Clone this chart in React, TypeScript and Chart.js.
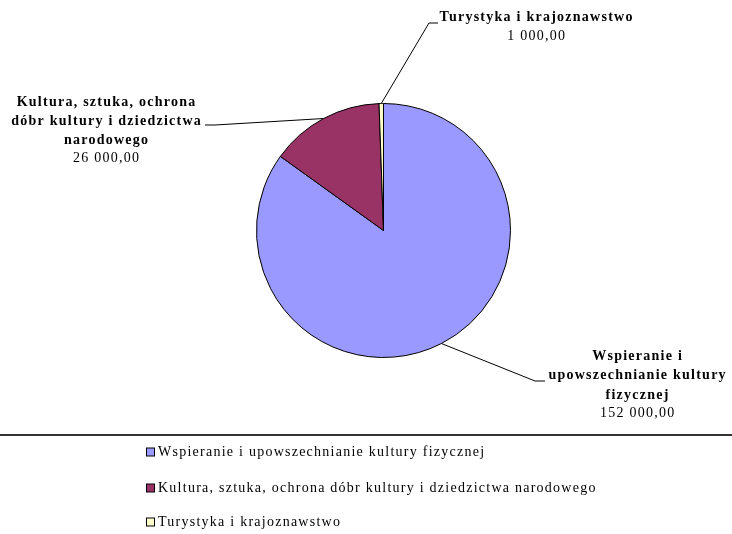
import React, { useEffect, useRef } from "react";
import { Chart, registerables } from "chart.js";

Chart.register(...registerables);

const categories = [
  "Wspieranie i upowszechnianie kultury fizycznej",
  "Kultura, sztuka, ochrona dóbr kultury i dziedzictwa narodowego",
  "Turystyka i krajoznawstwo",
];
const values = [152000, 26000, 1000];
const valueLabels = ["152 000,00", "26 000,00", "1 000,00"];
const labelLines = [
  ["Wspieranie i", "upowszechnianie kultury", "fizycznej"],
  ["Kultura, sztuka, ochrona", "dóbr kultury i dziedzictwa", "narodowego"],
  ["Turystyka i krajoznawstwo"],
];
const colors = ["#9999FF", "#993366", "#FFFFCC"];

// label layout: text center x, first line y, line height, elbow point, end point
const labelLayout = [
  { x: 637, y: 356, lh: 19.5, elbow: [535, 381], end: [545, 381] },
  { x: 106, y: 102, lh: 19.2, elbow: [215, 125], end: [205, 125] },
  { x: 536, y: 17, lh: 20, elbow: [429, 23], end: [438, 23] },
];

const FONT = '"Liberation Serif", "Times New Roman", serif';

function drawText(ctx: CanvasRenderingContext2D, t: string, x: number, y: number, align: "left" | "center") {
  const sp = 1.25;
  (ctx as any).letterSpacing = sp + "px";
  if (align === "center") {
    const w = ctx.measureText(t).width - sp;
    ctx.textAlign = "left";
    ctx.fillText(t, x - w / 2, y);
  } else {
    ctx.textAlign = "left";
    ctx.fillText(t, x, y);
  }
  (ctx as any).letterSpacing = "0px";
}

const overlayPlugin = {
  id: "overlay",
  afterDraw(chart: any) {
    const ctx = chart.ctx as CanvasRenderingContext2D;
    const meta = chart.getDatasetMeta(0);
    ctx.save();
    meta.data.forEach((arc: any, i: number) => {
      const p = arc.getProps(["x", "y", "startAngle", "endAngle", "outerRadius"], true);
      const mid = (p.startAngle + p.endAngle) / 2;
      const sx = p.x + Math.cos(mid) * p.outerRadius;
      const sy = p.y + Math.sin(mid) * p.outerRadius;
      const L = labelLayout[i];
      ctx.strokeStyle = "#000";
      ctx.lineWidth = 1;
      ctx.beginPath();
      ctx.moveTo(sx, sy);
      ctx.lineTo(L.elbow[0], L.elbow[1]);
      ctx.lineTo(L.end[0], L.end[1]);
      ctx.stroke();
      ctx.fillStyle = "#000";
      ctx.textBaseline = "middle";
      const lines = labelLines[i];
      ctx.font = `bold 14px ${FONT}`;
      lines.forEach((t, k) => drawText(ctx, t, L.x, L.y + k * L.lh, "center"));
      ctx.font = `14px ${FONT}`;
      drawText(ctx, valueLabels[i], L.x, L.y + lines.length * L.lh - 1, "center");
    });
    ctx.strokeStyle = "#333";
    ctx.lineWidth = 2;
    ctx.beginPath();
    ctx.moveTo(0, 435);
    ctx.lineTo(chart.width, 435);
    ctx.stroke();
    const rows = [452, 488, 522];
    categories.forEach((c, i) => {
      ctx.fillStyle = colors[i];
      ctx.fillRect(146.5, rows[i] - 4, 8, 8);
      ctx.strokeStyle = "#000";
      ctx.lineWidth = 1;
      ctx.strokeRect(146.5, rows[i] - 4, 8, 8);
      ctx.fillStyle = "#000";
      ctx.font = `14px ${FONT}`;
      ctx.textBaseline = "middle";
      drawText(ctx, c, 158, rows[i], "left");
    });
    ctx.restore();
  },
};

export default function App() {
  const ref = useRef<HTMLCanvasElement | null>(null);
  useEffect(() => {
    if (!ref.current) return;
    const chart = new Chart(ref.current, {
      type: "pie",
      data: {
        labels: categories,
        datasets: [
          {
            data: values,
            backgroundColor: colors,
            borderColor: "#000",
            borderWidth: 1,
          },
        ],
      },
      options: {
        responsive: false,
        animation: false,
        layout: { padding: { left: 256, right: 221, top: 103, bottom: 176 } },
        plugins: {
          legend: { display: false },
          tooltip: { enabled: false },
        },
      },
      plugins: [overlayPlugin],
    });
    return () => chart.destroy();
  }, []);
  return (
    <div style={{ position: "absolute", left: 0, top: 0, width: 732, height: 534, background: "#fff" }}>
      <canvas ref={ref} width={732} height={534} style={{ width: 732, height: 534 }} />
    </div>
  );
}
